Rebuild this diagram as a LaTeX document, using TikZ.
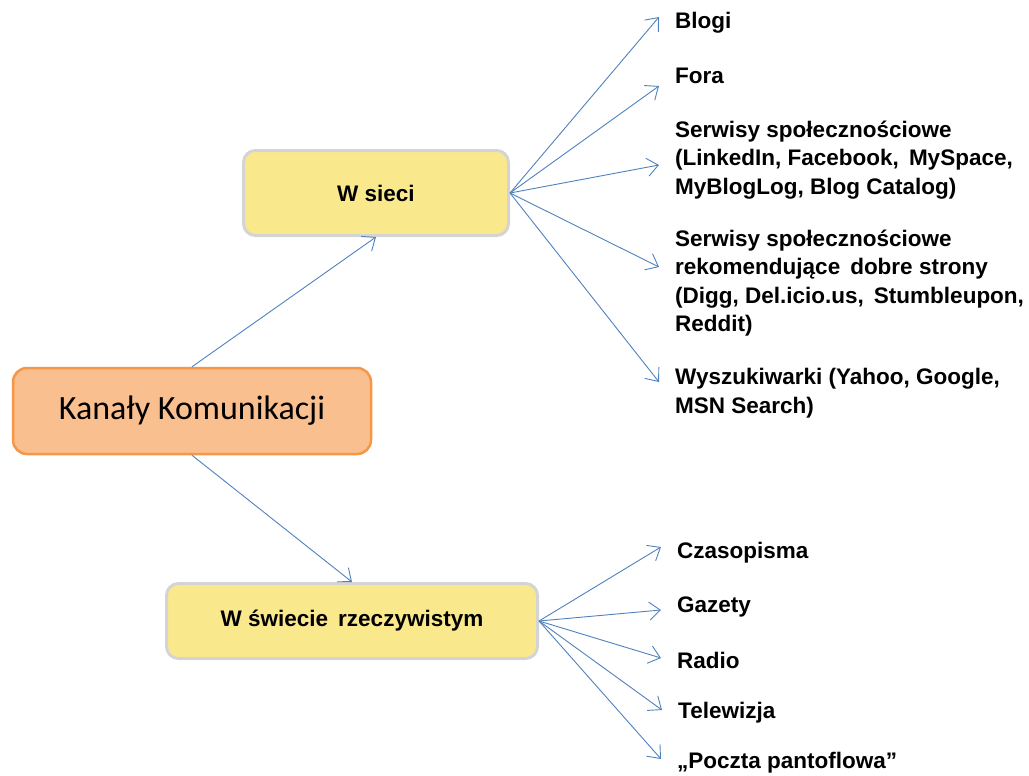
\documentclass[tikz,border=0pt]{standalone}
\usepackage{fontspec}
\setmainfont{Liberation Sans}
\newfontfamily\calibrifont{Carlito}
\usetikzlibrary{
  arrows.meta,
  positioning
}
\definecolor{rootfill}{RGB}{250, 191, 143}
\definecolor{rootborder}{RGB}{247, 150, 70}
\definecolor{groupfill}{RGB}{250, 233, 140}
\definecolor{groupborder}{RGB}{212, 212, 212}
\definecolor{arrowcolor}{RGB}{79, 129, 189}
\tikzset{
rootblock/.style={
  draw=rootborder,
  line width=2.5pt,
  rounded corners=14pt,
  fill=rootfill,
  minimum width=358pt,
  minimum height=86pt,
  font=\calibrifont\fontsize{34}{40}\selectfont
},
groupblock/.style={
  draw=groupborder,
  line width=3pt,
  rounded corners=12pt,
  fill=groupfill,
  font=\fontsize{22.5}{26}\selectfont\bfseries
},
itemtext/.style={
  anchor=west,
  align=left,
  inner sep=0pt,
  font=\fontsize{22.5}{28.5}\selectfont\bfseries
},
arrow/.style={
  -{Straight Barb[length=11pt,width=18pt]},
  line width=0.9pt,
  draw=arrowcolor
}
}
\begin{document}
\begin{tikzpicture}[x=1pt,y=-1pt]
  \useasboundingbox (0,0) rectangle (1029,776);

  % main blocks
  \node[rootblock] (root) at (192,411) {Kanały Komunikacji};
  \node[groupblock, minimum width=265pt, minimum height=85pt] (online) at (376,193) {W sieci};
  \node[groupblock, minimum width=371pt, minimum height=75pt] (offline) at (352,621) {W świecie\, rzeczywistym};

  % online channels
  \node[itemtext] (blogi) at (675,23) {Blogi};
  \node[itemtext] (fora) at (675,76) {Fora};
  \node[itemtext] (social) at (675,160) {Serwisy społecznościowe\\(LinkedIn, Facebook,\, MySpace,\\MyBlogLog, Blog Catalog)};
  \node[itemtext] (bookmark) at (675,283) {Serwisy społecznościowe\\rekomendujące\, dobre strony\\(Digg, Del.icio.us,\, Stumbleupon,\\Reddit)};
  \node[itemtext] (search) at (675,393) {Wyszukiwarki (Yahoo, Google,\\MSN Search)};

  % offline channels
  \node[itemtext] (czasopisma) at (677,553) {Czasopisma};
  \node[itemtext] (gazety) at (677,607) {Gazety};
  \node[itemtext] (radio) at (677,660) {Radio};
  \node[itemtext] (tv) at (678,713) {Telewizja};
  \node[itemtext] (poczta) at (677,763) {„Poczta pantoflowa”};

  \draw[arrow] (root.north) -- (online.south);
  \draw[arrow] (root.south) -- (offline.north);

  \foreach \item/\dy in {blogi/6, fora/-10, social/-5, bookmark/16, search/11}
    \draw[arrow] (online.east) -- ([xshift=-16pt,yshift=\dy pt]\item.west);

  \foreach \item/\dy in {czasopisma/6, gazety/-3, radio/2, tv/3, poczta/4}
    \draw[arrow] (offline.east) -- ([xshift=-16pt,yshift=\dy pt]\item.west);
\end{tikzpicture}
\end{document}
